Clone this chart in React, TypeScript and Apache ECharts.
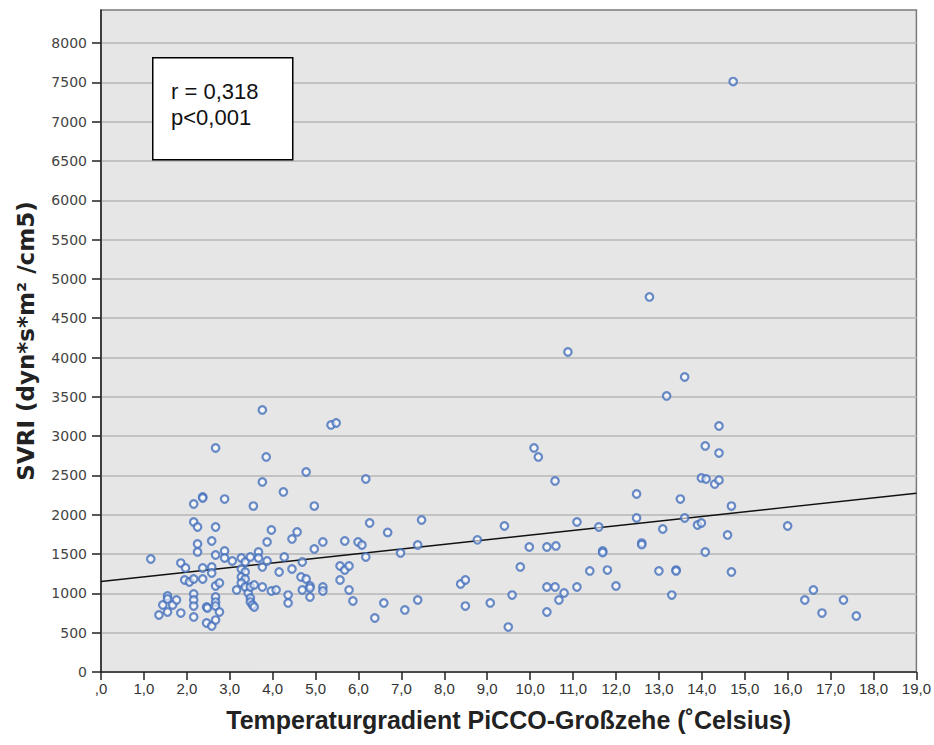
import React, { useEffect, useRef } from 'react';
import * as echarts from 'echarts';

// Temperaturgradient (°C) vs SVRI
const svriPoints: [number, number][] = [
  [1.16, 1437],
  [1.35, 725], [1.44, 852], [1.55, 967], [1.55, 929], [1.55, 763], [1.67, 852], [1.76, 916], [1.86, 750],
  [1.86, 1386], [1.97, 1323], [1.95, 1170], [2.06, 1145],
  [2.16, 2137], [2.16, 1908], [2.16, 1183], [2.16, 992], [2.16, 916], [2.16, 839], [2.16, 700],
  [2.25, 1844], [2.25, 1628], [2.25, 1527],
  [2.37, 2226], [2.37, 2213], [2.37, 1323], [2.37, 1183],
  [2.46, 827], [2.48, 814], [2.46, 623],
  [2.58, 1666], [2.58, 1336], [2.58, 1259], [2.58, 585],
  [2.67, 2849], [2.67, 1844], [2.67, 1488], [2.67, 1094], [2.67, 954], [2.67, 890], [2.67, 839], [2.67, 661],
  [2.76, 1132], [2.76, 763],
  [2.88, 2200], [2.88, 1539], [2.88, 1450],
  [3.06, 1412], [3.16, 1043],
  [3.27, 1450], [3.36, 1399], [3.27, 1310], [3.36, 1272], [3.27, 1208], [3.36, 1183], [3.27, 1132], [3.36, 1081],
  [3.43, 1005], [3.48, 1463], [3.48, 1081], [3.48, 941], [3.48, 890], [3.53, 852], [3.57, 827], [3.57, 1107], [3.55, 2111],
  [3.67, 1527], [3.67, 1450],
  [3.76, 3333], [3.76, 2417], [3.76, 1336], [3.76, 1081],
  [3.85, 2735], [3.87, 1654], [3.87, 1412],
  [3.97, 1806], [3.97, 1030], [4.08, 1043],
  [4.15, 1272], [4.25, 2290], [4.27, 1463], [4.36, 979], [4.36, 878],
  [4.45, 1692], [4.45, 1310], [4.57, 1781],
  [4.66, 1208], [4.69, 1399], [4.69, 1043], [4.78, 2544], [4.78, 1183],
  [4.87, 1094], [4.87, 1068], [4.87, 954],
  [4.97, 2111], [4.97, 1565],
  [5.17, 1654], [5.17, 1081], [5.17, 1030],
  [5.36, 3142], [5.48, 3167],
  [5.57, 1348], [5.57, 1170], [5.68, 1666], [5.68, 1297], [5.78, 1348], [5.78, 1043], [5.87, 903],
  [5.99, 1654], [6.08, 1615], [6.17, 2455], [6.17, 1463], [6.26, 1895], [6.38, 687], [6.59, 878], [6.68, 1775],
  [6.98, 1514], [7.08, 789], [7.38, 1615], [7.38, 916], [7.47, 1933],
  [8.38, 1119], [8.49, 1170], [8.49, 839], [8.77, 1680], [9.07, 878], [9.4, 1857], [9.49, 572], [9.58, 979], [9.77, 1336],
  [9.98, 1590], [10.09, 2850], [10.19, 2735], [10.39, 1590], [10.39, 1081], [10.39, 763], [10.58, 2430], [10.6, 1603],
  [10.58, 1081], [10.67, 916], [10.79, 1005], [10.88, 4070],
  [11.09, 1908], [11.09, 1081], [11.39, 1285], [11.6, 1844], [11.69, 1540], [11.69, 1520], [11.8, 1297], [12.0, 1094],
  [12.48, 2264], [12.48, 1959], [12.6, 1640], [12.6, 1620], [12.78, 4770], [13.0, 1285], [13.09, 1819], [13.18, 3511],
  [13.3, 979], [13.4, 1297], [13.4, 1285], [13.5, 2200], [13.6, 3752], [13.6, 1959],
  [13.9, 1870], [13.99, 2468], [13.99, 1895], [14.08, 2875], [14.1, 2455], [14.08, 1526], [14.3, 2390], [14.4, 2440],
  [14.4, 3129], [14.4, 2785], [14.6, 1743], [14.73, 7510], [14.69, 2111], [14.69, 1272],
  [16.0, 1857], [16.4, 916], [16.6, 1043], [16.8, 750], [17.3, 916], [17.6, 712],
];

// linear fit line (endpoints at x = 0 and x = 19)
const fitLine: [number, number][] = [[0, 1150], [19, 2275]];

const xTickLabels = [
  ',0', '1,0', '2,0', '3,0', '4,0', '5,0', '6,0', '7,0', '8,0', '9,0',
  '10,0', '11,0', '12,0', '13,0', '14,0', '15,0', '16,0', '17,0', '18,0', '19,0',
];
const yTickValues = [0, 500, 1000, 1500, 2000, 2500, 3000, 3500, 4000, 4500, 5000, 5500, 6000, 6500, 7000, 7500, 8000];
const statsLines = ['r = 0,318', 'p<0,001'];

const xTitle = 'Temperaturgradient PiCCO-Großzehe (˚Celsius)';
const yTitle = 'SVRI (dyn*s*m² /cm5)';

const sans = "'Liberation Sans', Arial, sans-serif";

export default function App() {
  const ref = useRef<HTMLDivElement>(null);
  useEffect(() => {
    document.body.style.margin = '0';
    const chart = echarts.init(ref.current!, null, { renderer: 'svg' });
    chart.setOption({
      animation: false,
      backgroundColor: '#ffffff',
      grid: {
        left: 101, top: 10, width: 819, height: 662,
        show: true, backgroundColor: '#e6e6e6', borderColor: '#7a7a7a', borderWidth: 1.5,
      },
      xAxis: {
        type: 'value', min: 0, max: 19, interval: 1,
        axisLine: { show: true, onZero: false, lineStyle: { color: '#222', width: 1.5 } },
        axisTick: { show: true, length: 8, lineStyle: { color: '#222', width: 1.5 } },
        splitLine: { show: false },
        axisLabel: {
          formatter: (v: number) => xTickLabels[Math.round(v)] ?? '',
          margin: 9, color: '#333', fontSize: 15, fontFamily: sans,
        },
        name: xTitle, nameLocation: 'middle', nameGap: 35,
        nameTextStyle: { fontSize: 25, fontWeight: 'bold', color: '#222', fontFamily: sans },
      },
      yAxis: {
        type: 'value', min: 0, max: 8420,
        axisLine: { show: true, onZero: false, lineStyle: { color: '#222', width: 1.5 } },
        axisTick: { show: true, length: 9, customValues: yTickValues, lineStyle: { color: '#222', width: 1.5 } },
        splitLine: { show: true, lineStyle: { color: '#c2c2c2', width: 2 } },
        axisLabel: {
          customValues: yTickValues,
          formatter: (v: number) => String(v),
          margin: 14, color: '#444', fontSize: 14, fontFamily: "'DejaVu Sans', Verdana, sans-serif",
        },
        name: yTitle, nameLocation: 'middle', nameGap: 64, nameRotate: 90,
        nameTextStyle: { fontSize: 23, fontWeight: 'bold', color: '#222', fontFamily: "'DejaVu Sans', Verdana, sans-serif" },
      },
      series: [
        {
          type: 'line', data: fitLine, symbol: 'none', silent: true,
          lineStyle: { color: '#111', width: 1.5 }, z: 2,
        },
        {
          type: 'scatter', data: svriPoints, symbol: 'circle', symbolSize: 7.5,
          itemStyle: { color: 'rgba(255,255,255,0.75)', borderColor: '#4571bd', borderWidth: 2.2 }, z: 3,
        },
      ],
      graphic: [
        {
          type: 'rect', left: 152, top: 57, z: 10,
          shape: { width: 140, height: 102 },
          style: { fill: '#ffffff', stroke: '#000', lineWidth: 1.5 },
        },
        {
          type: 'text', left: 171, top: 78, z: 11,
          style: {
            text: statsLines.join('\n'), fontSize: 22, lineHeight: 26,
            fontFamily: sans, fill: '#111',
          },
        },
      ],
    });
    return () => chart.dispose();
  }, []);
  return <div ref={ref} style={{ width: 934, height: 745 }} />;
}
